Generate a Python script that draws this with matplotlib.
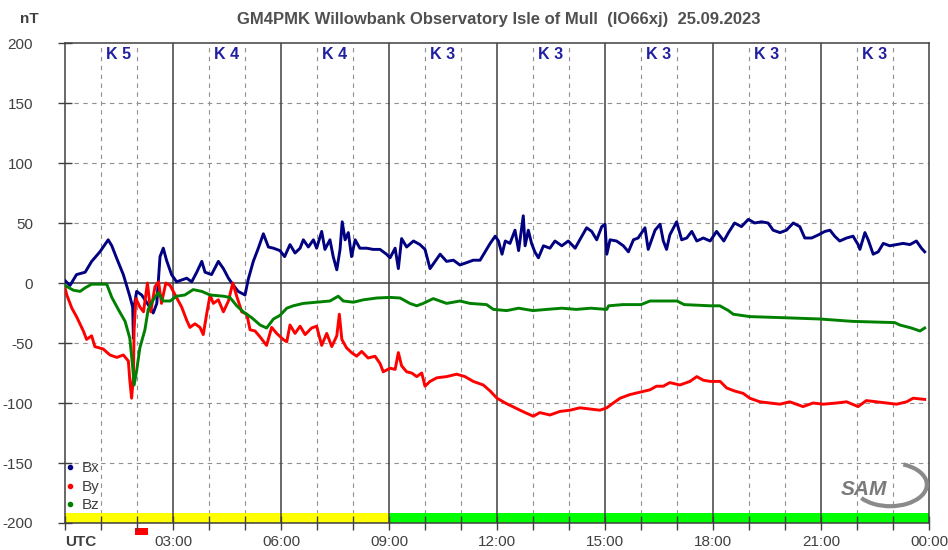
import matplotlib
import matplotlib.pyplot as plt
from matplotlib.lines import Line2D
from matplotlib.patches import Arc, Rectangle
from matplotlib.transforms import blended_transform_factory

matplotlib.use("Agg")

# --- Data (UTC hours, nT) ---
bx_hours = [0, 0.14, 0.32, 0.56, 0.74, 0.97, 1.2, 1.3, 1.43, 1.62, 1.8, 1.88, 1.9, 1.92, 1.99,
            2.13, 2.31, 2.45, 2.55, 2.64, 2.73, 2.82, 2.96, 3.1, 3.38, 3.52, 3.66, 3.8, 3.89,
            4.07, 4.26, 4.4, 4.54, 4.68, 4.81, 5.0, 5.09, 5.23, 5.37, 5.51, 5.65, 5.79, 5.97,
            6.1, 6.25, 6.39, 6.53, 6.62, 6.76, 6.9, 6.99, 7.13, 7.22, 7.36, 7.45, 7.55, 7.64,
            7.7, 7.78, 7.87, 7.96, 8.06, 8.19, 8.38, 8.56, 8.75, 8.93, 9.03, 9.17, 9.26, 9.35,
            9.49, 9.68, 9.86, 10.0, 10.14, 10.28, 10.42, 10.6, 10.79, 10.97, 11.16, 11.34,
            11.53, 11.67, 11.81, 11.95, 12.04, 12.14, 12.23, 12.36, 12.5, 12.6, 12.73, 12.78,
            12.87, 12.96, 13.05, 13.15, 13.29, 13.47, 13.61, 13.8, 13.98, 14.17, 14.3, 14.49,
            14.63, 14.77, 14.91, 15.0, 15.05, 15.14, 15.32, 15.51, 15.65, 15.79, 15.92, 16.11,
            16.2, 16.39, 16.53, 16.62, 16.71, 16.8, 16.99, 17.13, 17.27, 17.41, 17.55, 17.73,
            17.92, 18.1, 18.3, 18.43, 18.6, 18.79, 18.98, 19.16, 19.35, 19.53, 19.67, 19.86,
            20.04, 20.23, 20.41, 20.55, 20.74, 20.92, 21.11, 21.25, 21.38, 21.52, 21.71, 21.89,
            22.03, 22.08, 22.22, 22.31, 22.45, 22.59, 22.73, 22.91, 23.1, 23.28, 23.47, 23.65,
            23.79, 23.88]
bx_nT = [2, -2, 7, 9, 18, 26, 36, 31, 21, 7, -11, -20, -46, -20, -7,
         -10, -18, -25, -17, 22, 29, 19, 7, 1, 4, 1, 9, 18, 9,
         7, 18, 12, 4, -2, -7, -10, 3, 18, 29, 41, 30, 29, 27,
         22, 32, 25, 29, 36, 30, 36, 29, 43, 28, 36, 22, 11, 28,
         51, 36, 42, 22, 36, 29, 29, 28, 28, 24, 21, 29, 12, 37,
         30, 35, 32, 28, 12, 18, 24, 18, 19, 15, 17, 19,
         19, 26, 33, 39, 35, 24, 35, 33, 44, 27, 56, 31,
         44, 33, 26, 21, 31, 29, 35, 31, 35, 29, 36, 46,
         43, 36, 47, 49, 24, 36, 35, 31, 26, 36, 37.5, 46,
         28, 44, 49, 35, 28, 40, 51, 36, 37.5, 43, 35, 37.5,
         35, 43, 35, 42, 50, 47, 53, 50, 51, 50, 44, 42,
         44, 50, 47, 37.5, 37.5, 40, 43, 44, 39, 35, 37.5, 39,
         32, 28, 42, 36, 24, 26, 33, 31, 32, 33, 32, 35,
         29, 26]

by_hours = [0, 0.05, 0.19, 0.32, 0.51, 0.6, 0.74, 0.83, 1.06, 1.25, 1.44, 1.62, 1.76, 1.8, 1.85,
            1.9, 1.92, 1.97, 2.08, 2.18, 2.29, 2.38, 2.5, 2.6, 2.68, 2.8, 2.92, 3.06, 3.24, 3.38,
            3.47, 3.61, 3.75, 3.84, 3.94, 4.03, 4.12, 4.26, 4.4, 4.54, 4.66, 4.77, 4.91, 5.05,
            5.14, 5.28, 5.42, 5.6, 5.74, 5.88, 6.06, 6.16, 6.25, 6.39, 6.53, 6.67, 6.85, 6.99,
            7.13, 7.27, 7.41, 7.55, 7.62, 7.69, 7.82, 7.96, 8.1, 8.24, 8.42, 8.61, 8.75, 8.84,
            9.03, 9.17, 9.26, 9.35, 9.49, 9.63, 9.77, 9.91, 10.0, 10.14, 10.33, 10.6, 10.88,
            11.11, 11.34, 11.62, 11.81, 12.0, 12.23, 12.5, 12.64, 12.78, 13.01, 13.19, 13.47,
            13.75, 14.03, 14.3, 14.58, 14.86, 15.05, 15.23, 15.42, 15.69, 15.97, 16.25, 16.43,
            16.62, 16.8, 17.08, 17.36, 17.55, 17.73, 17.92, 18.2, 18.38, 18.6, 18.84, 19.02,
            19.3, 19.58, 19.86, 20.13, 20.5, 20.78, 21.06, 21.43, 21.71, 22.03, 22.26, 22.54,
            22.82, 23.1, 23.38, 23.56, 23.88]
by_nT = [-4, -10, -21, -28, -40, -47, -44, -53, -55, -60, -62, -60, -65, -81, -96,
         -78, -38, -13, -20, -24, 0, -24, -3, 1, -17, 0, -2, -10, -20, -31,
         -37, -34, -37, -43, -25, -10, -17, -14, -24, -15, 0, -11, -24, -26,
         -39, -40, -45, -52, -37, -42, -47, -49, -35, -42, -36, -43, -37.5, -36,
         -52, -42, -53, -44, -26, -47, -54, -58, -61, -57, -62.5, -61, -67, -74,
         -71, -72, -58, -69, -74, -75, -78, -75, -86, -82, -79, -78, -76,
         -78, -82, -85, -90, -96, -100, -104, -106, -108, -111, -108, -110,
         -107, -106, -104, -105, -106, -104, -100, -96, -93, -91, -89, -86,
         -86, -83, -85, -82, -78, -81, -82, -82, -87.5, -90, -92, -96,
         -99, -100, -101, -99, -103, -100, -101, -100, -99, -103, -98, -99,
         -100, -101, -99, -96, -97]

bz_hours = [0, 0.23, 0.42, 0.56, 0.74, 1.16, 1.3, 1.48, 1.67, 1.8, 1.88, 1.92, 1.99, 2.08, 2.22,
            2.31, 2.45, 2.59, 2.73, 2.92, 3.1, 3.33, 3.56, 3.8, 4.03, 4.4, 4.58, 4.77, 4.95,
            5.19, 5.42, 5.6, 5.79, 5.97, 6.16, 6.34, 6.62, 6.99, 7.36, 7.59, 7.73, 8.01, 8.29,
            8.66, 9.03, 9.31, 9.58, 9.77, 9.95, 10.23, 10.6, 10.97, 11.25, 11.71, 11.9, 12.27,
            12.6, 13.0, 13.38, 13.8, 14.2, 14.6, 15.05, 15.1, 15.5, 16.0, 16.25, 16.6, 17.0,
            17.2, 17.92, 18.19, 18.43, 18.56, 19.02, 20.04, 20.97, 21.89, 23.05, 23.19, 23.51,
            23.75, 23.88]
bz_nT = [-2, -6, -7, -4, -1, -1, -12, -22, -32, -46, -70, -85, -73, -54, -39,
         -22, -14, -8, -15, -15, -11, -10, -5.5, -7, -10, -11, -12, -19, -24,
         -29, -35, -37.5, -30, -27, -21, -19, -17, -16, -15, -11, -15, -16, -14,
         -12.5, -12, -12.5, -17, -19, -17, -13, -17, -15, -17, -18, -22, -23,
         -21, -23, -22, -21, -22, -21, -22, -19, -18, -18, -15, -15, -15,
         -18, -19, -19, -23, -26, -28, -29, -30, -32, -33, -35, -37.5,
         -40, -37.5]

k_index = [5, 4, 4, 3, 3, 3, 3, 3]
status_hours = [0, 9, 24]
status_colors = ["#ffff00", "#00ff00"]
alert_hours = (1.95, 2.3)
hour_labels = ["UTC", "03:00", "06:00", "09:00", "12:00", "15:00", "18:00", "21:00", "00:00"]

plt.rcParams["font.family"] = ["Liberation Sans", "DejaVu Sans"]
plt.rcParams["axes.unicode_minus"] = False
text_col = "#404040"

fig = plt.figure(figsize=(9.48, 5.5), dpi=100)
ax = fig.add_axes([65 / 948, 1 - 523 / 550, 864 / 948, 480 / 550])
ax.set_xlim(0, 24)
ax.set_ylim(-200, 200)

# Gitter: stiplet hver time / 50 nT, fuldt hver 3. time og ved 0
for h in range(1, 24):
    if h % 3 == 0:
        ax.axvline(h, color="#404040", lw=1.1, zorder=1.2)
    else:
        ax.axvline(h, color="#909090", lw=0.8, ls=(0, (4, 4)), zorder=0.8)
for v in (-150, -100, -50, 50, 100, 150):
    ax.axhline(v, color="#909090", lw=0.8, ls=(0, (4, 4)), zorder=0.8)
ax.axhline(0, color="#404040", lw=1.1, zorder=1.2)

# Statusbjælke nederst
for i, c in enumerate(status_colors):
    ax.fill_between([status_hours[i], status_hours[i + 1]], -200, -192, color=c, lw=0, zorder=1.0)
ax.add_patch(Rectangle((alert_hours[0], -210), alert_hours[1] - alert_hours[0], 5.6,
                       color="#ff0000", lw=0, clip_on=False))

ax.plot(bx_hours, bx_nT, color="#000080", lw=2.1, zorder=3)
ax.plot(by_hours, by_nT, color="#ff0000", lw=2.1, zorder=3.1)
ax.plot(bz_hours, bz_nT, color="#008000", lw=2.1, zorder=3.2)

# K-indeks for hver 3-timers blok
trans = blended_transform_factory(ax.transData, ax.transAxes)
for i, k in enumerate(k_index):
    ax.text(1.5 + 3 * i, 0.976, f"K {k}", transform=trans, ha="center", va="center",
            fontsize=11.5, fontweight="bold", color="#2020a0")

# Akser og ticks
ax.set_xticks(range(0, 25, 3))
ax.set_xticks(range(0, 25), minor=True)
ax.set_xticklabels(hour_labels)
ax.set_yticks(range(-200, 201, 50))
ax.tick_params(axis="both", which="both", direction="inout", length=10, width=1,
               color="#404040", labelcolor=text_col, labelsize=11)
ax.tick_params(axis="x", pad=4)
ax.tick_params(axis="y", pad=18)
utc = ax.get_xticklabels()[0]
utc.set_horizontalalignment("left")
utc.set_fontweight("bold")
for s in ax.spines.values():
    s.set_color("#404040")
    s.set_linewidth(1.1)

handles = [Line2D([], [], marker="o", ms=3, ls="none", color=c) for c in ("#000080", "#ff0000", "#008000")]
ax.legend(handles, ["Bx", "By", "Bz"], loc="lower left", bbox_to_anchor=(0.0, 0.022),
          frameon=False, fontsize=11, handlelength=0.6, handletextpad=0.5,
          borderpad=0, borderaxespad=0, labelspacing=0.3, labelcolor=text_col)

# SAM-logo (tilnærmet)
ax.text(0.925, 0.07, "SAM", transform=ax.transAxes, ha="center", va="center", fontsize=15,
        fontstyle="italic", fontweight="bold", color="#7a7a7a", zorder=4)
ax.add_patch(Arc((0.955, 0.08), 0.085, 0.09, theta1=-140, theta2=70, transform=ax.transAxes,
                 color="#8a8a8a", lw=3, zorder=4))

fig.text(499 / 948, 1 - 19.5 / 550, "GM4PMK Willowbank Observatory Isle of Mull  (IO66xj)  25.09.2023",
         ha="center", va="center", fontsize=12, fontweight="bold", color="#505050")
fig.text(29 / 948, 1 - 19 / 550, "nT", ha="center", va="center", fontsize=11,
         fontweight="bold", color=text_col)

fig.savefig("out.png", dpi=100)
plt.close(fig)
